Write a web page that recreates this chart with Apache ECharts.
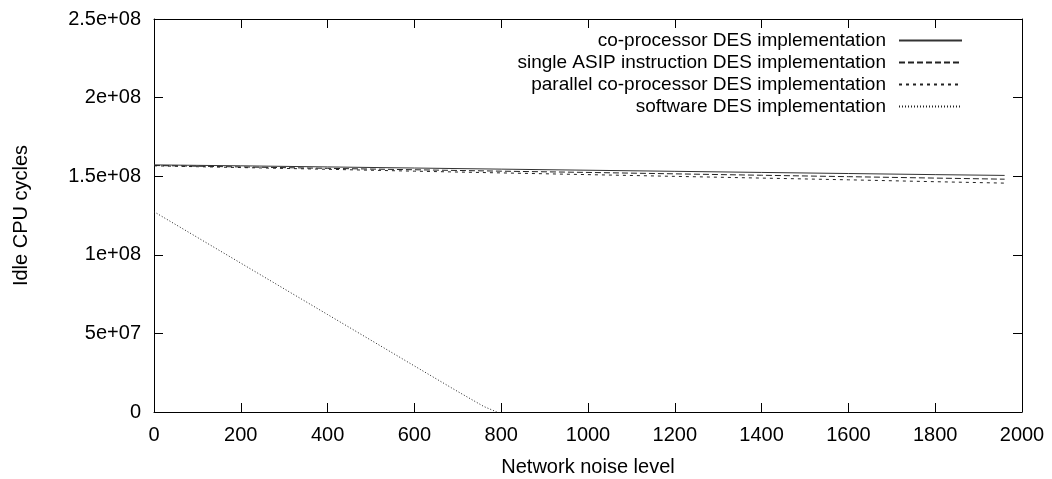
<!DOCTYPE html>
<html>
<head>
<meta charset="utf-8">
<title>Idle CPU cycles vs network noise</title>
<script src="https://cdn.jsdelivr.net/npm/echarts@6/dist/echarts.min.js"></script>
<style>
  html, body { margin: 0; padding: 0; background: #fff; }
  #chart { width: 1052px; height: 479px; }
</style>
</head>
<body>
<div id="chart"></div>
<script>
// values
const noiseLevels = [0, 200, 400, 600, 800, 1000, 1200, 1400, 1600, 1800, 1960];
const coProcessor = [1.572e8, 1.566e8, 1.559e8, 1.552e8, 1.545e8, 1.538e8, 1.531e8, 1.524e8, 1.517e8, 1.510e8, 1.505e8];
const singleAsip  = [1.568e8, 1.559e8, 1.550e8, 1.541e8, 1.532e8, 1.524e8, 1.515e8, 1.506e8, 1.497e8, 1.488e8, 1.481e8];
const parallelCo  = [1.566e8, 1.555e8, 1.544e8, 1.532e8, 1.521e8, 1.510e8, 1.499e8, 1.488e8, 1.477e8, 1.465e8, 1.456e8];
const softwareX   = [0, 200, 400, 600, 700, 760, 790];
const software    = [1.274e8, 0.947e8, 0.620e8, 0.293e8, 0.130e8, 0.035e8, 0];

const xTicks = ['0', '200', '400', '600', '800', '1000', '1200', '1400', '1600', '1800', '2000'];
const yTicks = ['0', '5e+07', '1e+08', '1.5e+08', '2e+08', '2.5e+08'];

const seriesNames = [
  'co-processor DES implementation',
  'single ASIP instruction DES implementation',
  'parallel co-processor DES implementation',
  'software DES implementation'
];

const zip = (xs, ys) => xs.map((x, i) => [x, ys[i]]);

const font = 'Liberation Sans, Arial, Helvetica, sans-serif';
const axisLine = { show: true, onZero: false, lineStyle: { color: '#000', width: 1 } };
const tick = { show: true, inside: true, length: 9, lineStyle: { color: '#000' } };

const chart = echarts.init(document.getElementById('chart'));

function line(name, data, type, color) {
  return {
    name: name,
    type: 'line',
    data: data,
    showSymbol: false,
    symbol: 'none',
    animation: false,
    lineStyle: { color: color, width: 1, type: type },
    itemStyle: { color: color }
  };
}

chart.setOption({
  backgroundColor: '#fff',
  animation: false,
  textStyle: { fontFamily: font },
  grid: { left: 154, right: 30, top: 19, bottom: 67, containLabel: false, outerBoundsMode: 'none' },
  legend: {
    orient: 'vertical',
    align: 'right',
    right: 89,
    top: 31,
    padding: 0,
    itemWidth: 63,
    itemHeight: 14,
    itemGap: 3,
    data: seriesNames,
    itemStyle: { opacity: 0 },
    textStyle: { fontSize: 19, lineHeight: 16, color: '#000', fontFamily: font, padding: [0, 8, 0, 0] }
  },
  xAxis: [
    {
      type: 'value',
      min: 0, max: 2000, interval: 200,
      name: 'Network noise level',
      nameLocation: 'middle',
      nameGap: 45,
      nameTextStyle: { fontSize: 20, color: '#000', fontFamily: font },
      axisLine: axisLine,
      axisTick: tick,
      axisLabel: { color: '#000', fontSize: 20, margin: 13, formatter: (v) => xTicks[Math.round(v / 200)] },
      splitLine: { show: false }
    },
    {
      type: 'value', position: 'top',
      min: 0, max: 2000, interval: 200,
      axisLine: axisLine, axisTick: tick,
      axisLabel: { show: false }, splitLine: { show: false }
    }
  ],
  yAxis: [
    {
      type: 'value',
      min: 0, max: 2.5e8, interval: 5e7,
      name: 'Idle CPU cycles',
      nameLocation: 'middle',
      nameGap: 123,
      nameTextStyle: { fontSize: 20, color: '#000', fontFamily: font },
      axisLine: axisLine,
      axisTick: tick,
      axisLabel: { color: '#000', fontSize: 20, margin: 13, formatter: (v) => yTicks[Math.round(v / 5e7)] },
      splitLine: { show: false }
    },
    {
      type: 'value', position: 'right',
      min: 0, max: 2.5e8, interval: 5e7,
      axisLine: axisLine, axisTick: tick,
      axisLabel: { show: false }, splitLine: { show: false }
    }
  ],
  series: [
    line(seriesNames[0], zip(noiseLevels, coProcessor), 'solid', '#333'),
    line(seriesNames[1], zip(noiseLevels, singleAsip), [6, 3], '#222'),
    line(seriesNames[2], zip(noiseLevels, parallelCo), [3, 4], '#222'),
    line(seriesNames[3], zip(softwareX, software), [1, 2], '#222')
  ]
});

window.addEventListener('resize', function () {
  chart.resize();
});
</script>
</body>
</html>
